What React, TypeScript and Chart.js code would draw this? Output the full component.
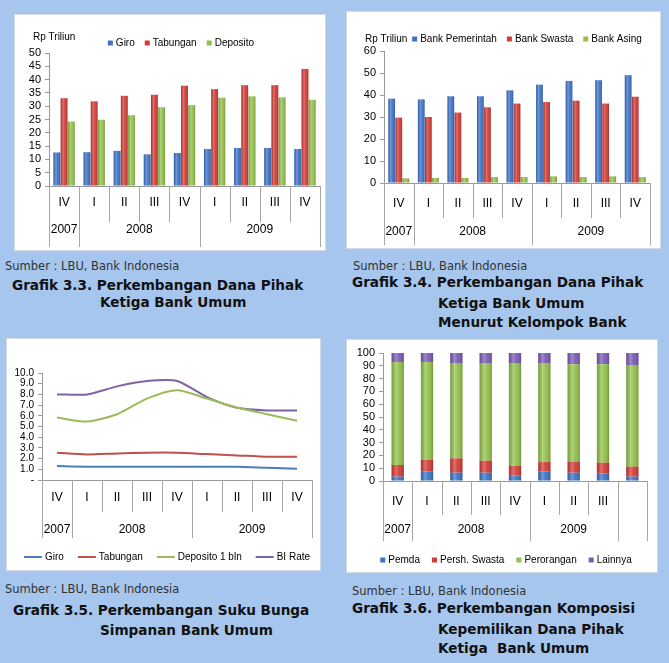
import React, { useEffect, useRef } from "react";
import { Chart, registerables } from "chart.js";
Chart.register(...registerables);

const FONT = "'Liberation Sans', Arial, sans-serif";

// ---- categories ----
const quarterLabels = ["IV", "I", "II", "III", "IV", "I", "II", "III", "IV"];
const yearLabels = ["2007", "2008", "2009"];
const yearSpans = [1, 4, 4];
const quarterLabels6 = ["IV", "I", "II", "III", "IV", "I", "II", "III", ""];
const yearLabels6 = ["2007", "2008", "2009", ""];
const yearSpans6 = [1, 4, 3, 1];

// ---- Grafik 3.3 (Rp Triliun) ----
const dpkGiro = [12.6, 12.7, 13.2, 11.9, 12.4, 13.9, 14.3, 14.3, 13.9];
const dpkTabungan = [33.0, 31.8, 33.9, 34.3, 37.7, 36.4, 37.9, 37.9, 44.0];
const dpkDeposito = [24.2, 24.9, 26.6, 29.6, 30.4, 33.2, 33.7, 33.3, 32.4];

// ---- Grafik 3.4 (Rp Triliun) ----
const bankPemerintah = [38.3, 38.0, 39.4, 39.4, 42.1, 44.7, 46.4, 46.7, 49.0];
const bankSwasta = [29.7, 30.0, 32.0, 34.4, 36.1, 36.8, 37.4, 36.1, 39.2];
const bankAsing = [2.1, 2.3, 2.3, 2.7, 2.7, 3.0, 2.7, 3.0, 2.7];

// ---- Grafik 3.5 (%) ----
const rateGiro = [1.3, 1.24, 1.24, 1.24, 1.24, 1.24, 1.24, 1.15, 1.06];
const rateTabungan = [2.55, 2.39, 2.48, 2.55, 2.55, 2.42, 2.3, 2.17, 2.17];
const rateDeposito = [5.84, 5.47, 6.15, 7.61, 8.39, 7.61, 6.77, 6.15, 5.53];
const biRate = [8.0, 8.0, 8.75, 9.25, 9.25, 7.75, 6.75, 6.5, 6.5];

// ---- Grafik 3.6 (%) ----
const sharePemda = [3.4, 7.3, 6.5, 6.5, 4.2, 7.3, 6.5, 6.0, 3.4];
const shareSwasta = [9.1, 9.1, 11.2, 9.3, 7.5, 7.5, 8.6, 8.3, 7.8];
const sharePerorangan = [80.5, 76.6, 74.5, 75.9, 80.0, 76.9, 76.1, 76.9, 79.4];
const shareLainnya = [7.0, 7.0, 7.8, 8.3, 8.3, 8.3, 8.8, 8.8, 9.4];

type Geo = { qSep: number; tableH: number; qY: number; yY: number };

function tablePlugin(quarters: string[], years: string[], spans: number[], g: Geo) {
  return {
    id: "tableAxis",
    afterDraw(chart: any) {
      const { ctx, chartArea } = chart;
      const xs = chart.scales.x;
      const n = quarters.length;
      const w = xs.getPixelForValue(1) - xs.getPixelForValue(0);
      const left = xs.getPixelForValue(0) - w / 2;
      const B = chartArea.bottom;
      const bounds = new Set<number>([0]);
      let acc = 0;
      spans.forEach((s) => {
        acc += s;
        bounds.add(acc);
      });
      ctx.save();
      ctx.strokeStyle = "#a6a6a6";
      ctx.lineWidth = 1;
      for (let k = 0; k <= n; k++) {
        const x = Math.round(left + k * w) + 0.5;
        const end = bounds.has(k) ? B + g.tableH : B + g.qSep;
        ctx.beginPath();
        ctx.moveTo(x, B);
        ctx.lineTo(x, end);
        ctx.stroke();
      }
      ctx.fillStyle = "#000";
      ctx.font = `12px ${FONT}`;
      ctx.textAlign = "center";
      ctx.textBaseline = "middle";
      quarters.forEach((q, i) => ctx.fillText(q, xs.getPixelForValue(i), B + g.qY));
      acc = 0;
      years.forEach((y, j) => {
        const s = spans[j];
        ctx.fillText(y, left + (acc + s / 2) * w, B + g.yY);
        acc += s;
      });
      ctx.restore();
    },
  };
}

type LegendItem = { kind: "box" | "line"; color: string; text: string };

function legendPlugin(items: LegendItem[], cx: number, y: number, gap: number, title?: { text: string; x: number; y: number }) {
  return {
    id: "customLegend",
    afterDraw(chart: any) {
      const ctx = chart.ctx;
      ctx.save();
      ctx.font = `10px ${FONT}`;
      ctx.textBaseline = "middle";
      ctx.textAlign = "left";
      const mk = (it: LegendItem) => (it.kind === "box" ? 5 : 18);
      const widths = items.map((it) => mk(it) + 3 + ctx.measureText(it.text).width);
      const total = widths.reduce((a, b) => a + b, 0) + gap * (items.length - 1);
      let x = cx - total / 2;
      items.forEach((it, i) => {
        if (it.kind === "box") {
          ctx.fillStyle = it.color;
          ctx.fillRect(x, y - 2.5, 5, 5);
        } else {
          ctx.strokeStyle = it.color;
          ctx.lineWidth = 2;
          ctx.beginPath();
          ctx.moveTo(x, y);
          ctx.lineTo(x + 18, y);
          ctx.stroke();
        }
        ctx.fillStyle = "#000";
        ctx.fillText(it.text, x + mk(it) + 3, y);
        x += widths[i] + gap;
      });
      if (title) {
        ctx.fillText(title.text, title.x, title.y);
      }
      ctx.restore();
    },
  };
}

const shadePlugin = {
  id: "shade",
  afterDatasetsDraw(chart: any) {
    const ctx = chart.ctx;
    ctx.save();
    chart.data.datasets.forEach((_: any, di: number) => {
      const meta = chart.getDatasetMeta(di);
      if (meta.type !== "bar") return;
      meta.data.forEach((el: any) => {
        const { x, y, base, width } = el.getProps(["x", "y", "base", "width"], true);
        const l = x - width / 2;
        const top = Math.min(y, base);
        const h = Math.abs(base - y);
        const gr = ctx.createLinearGradient(l, 0, l + width, 0);
        gr.addColorStop(0, "rgba(0,0,0,0.16)");
        gr.addColorStop(0.35, "rgba(255,255,255,0.28)");
        gr.addColorStop(0.6, "rgba(255,255,255,0.06)");
        gr.addColorStop(1, "rgba(0,0,0,0.22)");
        ctx.fillStyle = gr;
        ctx.fillRect(l, top, width, h);
      });
    });
    ctx.restore();
  },
};

function yAxis(min: number, max: number, step: number, width: number, size: number, fmt?: (v: number) => string) {
  return {
    min,
    max,
    ticks: {
      stepSize: step,
      autoSkip: false,
      color: "#000",
      font: { family: FONT, size },
      padding: 4,
      callback: (v: any) => (fmt ? fmt(Number(v)) : String(v)),
    },
    grid: { drawOnChartArea: false, drawTicks: true, tickLength: 4, color: "#999" },
    border: { display: true, color: "#999" },
    afterFit: (s: any) => {
      s.width = width;
    },
  };
}

function xAxis(height: number, stacked = false) {
  return {
    offset: true,
    stacked,
    grid: { display: false },
    ticks: { display: false },
    border: { display: true, color: "#999" },
    afterFit: (s: any) => {
      s.height = height;
    },
  };
}

const C = {
  blue: "#3d72c6",
  red: "#d33b35",
  green: "#92c04b",
  purple: "#7b5bb4",
  lBlue: "#4a7ebb",
  lRed: "#c0504d",
  lGreen: "#9bbb59",
  lPurple: "#7e62a6",
};

const baseOpts = {
  responsive: false,
  maintainAspectRatio: false,
  animation: false as const,
  events: [] as any[],
};

function build1(): any {
  return {
    type: "bar",
    data: {
      labels: quarterLabels,
      datasets: [
        { label: "Giro", data: dpkGiro, backgroundColor: C.blue },
        { label: "Tabungan", data: dpkTabungan, backgroundColor: C.red },
        { label: "Deposito", data: dpkDeposito, backgroundColor: C.green },
      ],
    },
    options: {
      ...baseOpts,
      datasets: { bar: { categoryPercentage: 0.72, barPercentage: 0.95 } },
      layout: { padding: { left: 0, top: 38, right: 5, bottom: 0 } },
      plugins: { legend: { display: false }, tooltip: { enabled: false } },
      scales: { x: xAxis(64), y: yAxis(0, 50, 5, 34, 11) },
    },
    plugins: [
      shadePlugin,
      tablePlugin(quarterLabels, yearLabels, yearSpans, { qSep: 36, tableH: 61, qY: 17, yY: 44 }),
      legendPlugin(
        [
          { kind: "box", color: C.blue, text: "Giro" },
          { kind: "box", color: C.red, text: "Tabungan" },
          { kind: "box", color: C.green, text: "Deposito" },
        ],
        166,
        28,
        10,
        { text: "Rp Triliun", x: 18, y: 22 }
      ),
    ],
  };
}

function build2(): any {
  return {
    type: "bar",
    data: {
      labels: quarterLabels,
      datasets: [
        { label: "Bank Pemerintah", data: bankPemerintah, backgroundColor: C.blue },
        { label: "Bank Swasta", data: bankSwasta, backgroundColor: C.red },
        { label: "Bank Asing", data: bankAsing, backgroundColor: C.green },
      ],
    },
    options: {
      ...baseOpts,
      datasets: { bar: { categoryPercentage: 0.72, barPercentage: 0.95 } },
      layout: { padding: { left: 0, top: 39, right: 10, bottom: 0 } },
      plugins: { legend: { display: false }, tooltip: { enabled: false } },
      scales: { x: xAxis(65), y: yAxis(0, 60, 10, 37, 11) },
    },
    plugins: [
      shadePlugin,
      tablePlugin(quarterLabels, yearLabels, yearSpans, { qSep: 35, tableH: 62, qY: 21, yY: 49 }),
      legendPlugin(
        [
          { kind: "box", color: C.blue, text: "Bank Pemerintah" },
          { kind: "box", color: C.red, text: "Bank Swasta" },
          { kind: "box", color: C.green, text: "Bank Asing" },
        ],
        180,
        27,
        10,
        { text: "Rp Triliun", x: 18, y: 27 }
      ),
    ],
  };
}

function build3(): any {
  const line = (label: string, data: number[], color: string) => ({
    label,
    data,
    borderColor: color,
    backgroundColor: color,
    borderWidth: 2,
    pointRadius: 0,
    tension: 0.25,
    fill: false,
  });
  return {
    type: "line",
    data: {
      labels: quarterLabels,
      datasets: [
        line("Giro", rateGiro, C.lBlue),
        line("Tabungan", rateTabungan, C.lRed),
        line("Deposito 1 bln", rateDeposito, C.lGreen),
        line("BI Rate", biRate, C.lPurple),
      ],
    },
    options: {
      ...baseOpts,
      layout: { padding: { left: 0, top: 34, right: 8, bottom: 0 } },
      plugins: { legend: { display: false }, tooltip: { enabled: false } },
      scales: {
        x: xAxis(90),
        y: yAxis(0, 10, 1, 35, 10, (v) => (v === 0 ? "-" : v.toFixed(1))),
      },
    },
    plugins: [
      tablePlugin(quarterLabels, yearLabels, yearSpans, { qSep: 32, tableH: 58, qY: 18, yY: 50 }),
      legendPlugin(
        [
          { kind: "line", color: C.lBlue, text: "Giro" },
          { kind: "line", color: C.lRed, text: "Tabungan" },
          { kind: "line", color: C.lGreen, text: "Deposito 1 bln" },
          { kind: "line", color: C.lPurple, text: "BI Rate" },
        ],
        160,
        218,
        14
      ),
    ],
  };
}

function build6(): any {
  return {
    type: "bar",
    data: {
      labels: quarterLabels6,
      datasets: [
        { label: "Pemda", data: sharePemda, backgroundColor: C.blue },
        { label: "Persh. Swasta", data: shareSwasta, backgroundColor: C.red },
        { label: "Perorangan", data: sharePerorangan, backgroundColor: C.green },
        { label: "Lainnya", data: shareLainnya, backgroundColor: C.purple },
      ],
    },
    options: {
      ...baseOpts,
      datasets: { bar: { categoryPercentage: 0.42, barPercentage: 1 } },
      layout: { padding: { left: 0, top: 13, right: 10, bottom: 0 } },
      plugins: { legend: { display: false }, tooltip: { enabled: false } },
      scales: { x: xAxis(91, true), y: { ...yAxis(0, 100, 10, 36, 11), stacked: true } },
    },
    plugins: [
      shadePlugin,
      tablePlugin(quarterLabels6, yearLabels6, yearSpans6, { qSep: 34, tableH: 60, qY: 21, yY: 49 }),
      legendPlugin(
        [
          { kind: "box", color: C.blue, text: "Pemda" },
          { kind: "box", color: C.red, text: "Persh. Swasta" },
          { kind: "box", color: C.green, text: "Perorangan" },
          { kind: "box", color: C.purple, text: "Lainnya" },
        ],
        159,
        220,
        12
      ),
    ],
  };
}

type Panel = { left: number; top: number; width: number; height: number };

function ChartBox({ panel, build }: { panel: Panel; build: () => any }) {
  const ref = useRef<HTMLCanvasElement>(null);
  useEffect(() => {
    const chart = new Chart(ref.current as HTMLCanvasElement, build());
    return () => chart.destroy();
  }, []);
  return (
    <div
      style={{
        position: "absolute",
        left: panel.left,
        top: panel.top,
        width: panel.width,
        height: panel.height,
        background: "#fff",
        boxShadow: "0 0 0 1px #d4dbe4",
      }}
    >
      <canvas ref={ref} width={panel.width} height={panel.height} style={{ display: "block" }} />
    </div>
  );
}

const SRC = "Sumber : LBU, Bank Indonesia";

function Txt({ x, y, text, bold }: { x: number; y: number; text: string; bold?: boolean }) {
  return (
    <div
      style={{
        position: "absolute",
        left: x,
        top: y,
        whiteSpace: "pre",
        fontFamily: "'DejaVu Sans', Verdana, sans-serif",
        fontSize: bold ? 13.6 : 11.5,
        lineHeight: bold ? "16px" : "14px",
        fontWeight: bold ? 700 : 400,
        color: bold ? "#111" : "#333",
      }}
    >
      {text}
    </div>
  );
}

export default function App() {
  return (
    <div
      style={{
        position: "absolute",
        left: 0,
        top: 0,
        width: 669,
        height: 663,
        background: "#a6c6ee",
        overflow: "hidden",
      }}
    >
      <ChartBox panel={{ left: 15, top: 15, width: 310, height: 235 }} build={build1} />
      <ChartBox panel={{ left: 347, top: 12, width: 313, height: 236 }} build={build2} />
      <ChartBox panel={{ left: 7, top: 339, width: 313, height: 231 }} build={build3} />
      <ChartBox panel={{ left: 347, top: 340, width: 310, height: 232 }} build={build6} />

      <Txt x={5} y={259} text={SRC} />
      <Txt x={12} y={277} text="Grafik 3.3. Perkembangan Dana Pihak" bold />
      <Txt x={100} y={294} text="Ketiga Bank Umum" bold />

      <Txt x={353} y={259} text={SRC} />
      <Txt x={352} y={274} text="Grafik 3.4. Perkembangan Dana Pihak" bold />
      <Txt x={438} y={295} text="Ketiga Bank Umum" bold />
      <Txt x={438} y={314} text="Menurut Kelompok Bank" bold />

      <Txt x={5} y={582} text={SRC} />
      <Txt x={13} y={602} text="Grafik 3.5. Perkembangan Suku Bunga" bold />
      <Txt x={100} y={622} text="Simpanan Bank Umum" bold />

      <Txt x={352} y={584} text={SRC} />
      <Txt x={352} y={600} text="Grafik 3.6. Perkembangan Komposisi" bold />
      <Txt x={438} y={621} text="Kepemilikan Dana Pihak" bold />
      <Txt x={438} y={640} text="Ketiga  Bank Umum" bold />
    </div>
  );
}
